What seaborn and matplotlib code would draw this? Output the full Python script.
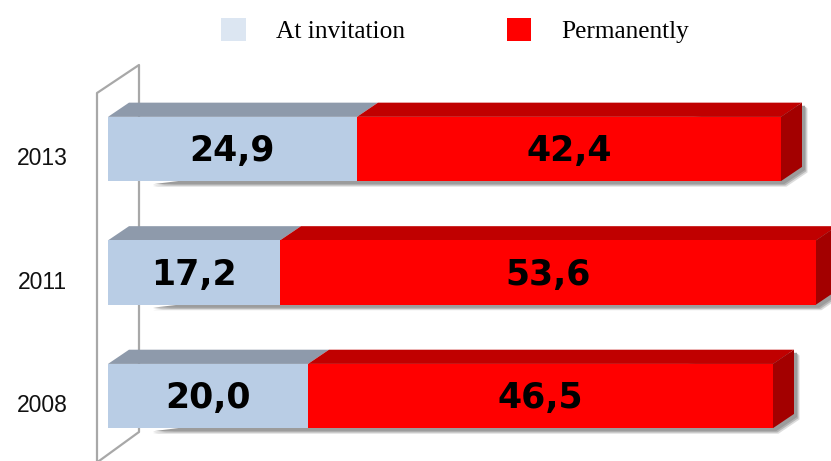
import matplotlib
matplotlib.use("Agg")
import matplotlib.pyplot as plt
from matplotlib.patches import Polygon
from matplotlib.lines import Line2D
import matplotlib.patches as mpatches
import pandas as pd
import seaborn as sns

# Data
years = ["2013", "2011", "2008"]
at_invitation = [24.9, 17.2, 20.0]
permanently = [42.4, 53.6, 46.5]
series_names = ["At invitation", "Permanently"]

# Colours
BLUE_FRONT = "#B9CDE5"
BLUE_TOP = "#8E9AAB"
BLUE_LEGEND = "#DCE6F2"
RED_FRONT = "#FF0000"
RED_TOP = "#C00000"
RED_SIDE = "#A30000"
SHADOW = "#9C9C9C"
WALL = "#A8A8A8"

sns.set_theme(style="white")
plt.rcParams["font.family"] = ["DejaVu Sans"]

df = pd.DataFrame({
    "year": years,
    "invitation": at_invitation,
    "total": [a + b for a, b in zip(at_invitation, permanently)],
})

fig = plt.figure(figsize=(8.31, 4.61), dpi=100)
ax = fig.add_axes([0, 0, 1, 1])

BAR_W = 0.52
# stacked: full-length red bar first, light-blue segment over its start
sns.barplot(data=df, x="total", y="year", order=years, orient="h",
            color=RED_FRONT, width=BAR_W, saturation=1, ax=ax, zorder=3)
sns.barplot(data=df, x="invitation", y="year", order=years, orient="h",
            color=BLUE_FRONT, width=BAR_W, saturation=1, ax=ax, zorder=3)

ax.set_xlim(-10.8, 72.3)
ax.set_ylim(2.526, -1.206)
ax.set_axis_off()

# 3-D extrusion depth in data units
DX, DY = 2.1, 0.115

n = len(years)
red_bars = ax.patches[:n]
blue_bars = ax.patches[n:2 * n]

for red, blue, yr, inv, perm in zip(red_bars, blue_bars, years, at_invitation, permanently):
    for p in (red, blue):
        p.set_edgecolor("none")
        p.set_linewidth(0)
    y_top = red.get_y()
    y_bot = red.get_y() + red.get_height()
    x_end = red.get_x() + red.get_width()
    x_mid = blue.get_x() + blue.get_width()
    x0 = blue.get_x()

    # soft drop shadow behind the whole block
    for k, a in enumerate([0.35, 0.6, 1.0]):
        off = 0.55 - 0.12 * k
        offy = 0.045 - 0.01 * k
        sh = Polygon([(x0 + 4.5, y_bot + offy), (x_end + off, y_bot + offy),
                      (x_end + DX + off, y_bot - DY + offy),
                      (x_end + DX + off, y_top - DY + offy),
                      (x_end + off, y_top - DY + offy)],
                     closed=True, facecolor=SHADOW, edgecolor="none",
                     alpha=a, zorder=1.2 + 0.01 * k)
        ax.add_patch(sh)

    # top faces
    ax.add_patch(Polygon([(x0, y_top), (x_mid, y_top), (x_mid + DX, y_top - DY),
                          (x0 + DX, y_top - DY)], closed=True,
                         facecolor=BLUE_TOP, edgecolor="none", zorder=2))
    ax.add_patch(Polygon([(x_mid, y_top), (x_end, y_top), (x_end + DX, y_top - DY),
                          (x_mid + DX, y_top - DY)], closed=True,
                         facecolor=RED_TOP, edgecolor="none", zorder=2))
    # right side face
    ax.add_patch(Polygon([(x_end, y_top), (x_end + DX, y_top - DY),
                          (x_end + DX, y_bot - DY), (x_end, y_bot)], closed=True,
                         facecolor=RED_SIDE, edgecolor="none", zorder=2))

    yc = y_top + red.get_height() / 2
    lbl = dict(ha="center", va="center", fontsize=25, fontweight="heavy",
               color="black", zorder=5)
    ax.text((x0 + x_mid) / 2, yc + 0.02, f"{inv:.1f}".replace(".", ","), **lbl)
    ax.text((x_mid + x_end) / 2, yc + 0.02, f"{perm:.1f}".replace(".", ","), **lbl)
    ax.text(-6.6, yc + 0.08, yr, ha="center", va="center", fontsize=16.5,
            family="Liberation Sans", color="#111111", zorder=5)

# left wall of the 3-D frame
wall_front, wall_back = -1.1, 3.1
wall_x = [wall_front, wall_front, wall_back, wall_back, wall_front]
wall_y = [2.6, -0.453, -0.680, 2.291, 2.538]
ax.add_line(Line2D(wall_x, wall_y, color=WALL, lw=1.6, zorder=0.5))

# legend
handles = [mpatches.Patch(facecolor=BLUE_LEGEND, edgecolor="none"),
           mpatches.Patch(facecolor=RED_FRONT, edgecolor="none")]
fig.legend(handles, series_names, loc="center", bbox_to_anchor=(0.548, 0.934),
           ncol=2, frameon=False, handlelength=0.95, handleheight=1.05,
           handletextpad=1.2, columnspacing=4.0, labelcolor="black",
           prop={"family": "Liberation Serif", "size": 18.3})

fig.savefig("out.png", dpi=100)
